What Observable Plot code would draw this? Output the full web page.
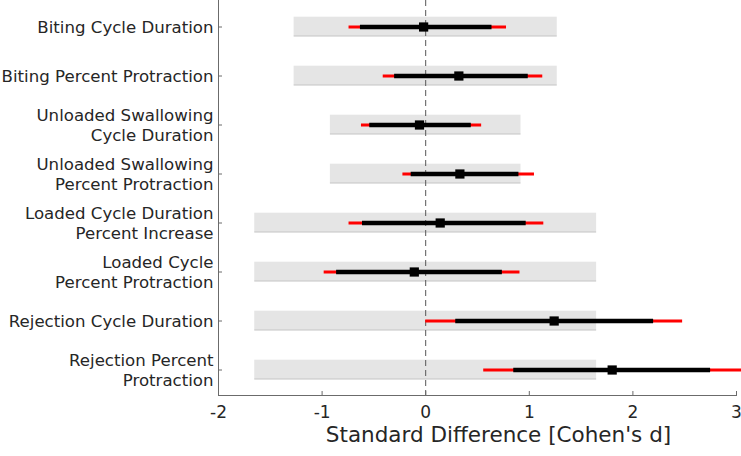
<!DOCTYPE html>
<html>
<head>
<meta charset="utf-8">
<script src="https://cdn.jsdelivr.net/npm/d3@7"></script>
<script src="https://cdn.jsdelivr.net/npm/@observablehq/plot@0.6"></script>
<style>
  html, body { margin: 0; padding: 0; background: #fff; }
  #chart svg { font-family: "DejaVu Sans", Verdana, sans-serif; display: block; }
</style>
</head>
<body>
<div id="chart"></div>
<script>
const categories = [
  "Biting Cycle Duration",
  "Biting Percent Protraction",
  "Unloaded Swallowing\nCycle Duration",
  "Unloaded Swallowing\nPercent Protraction",
  "Loaded Cycle Duration\nPercent Increase",
  "Loaded Cycle\nPercent Protraction",
  "Rejection Cycle Duration",
  "Rejection Percent\nProtraction"
];
const bandHalfWidth = [1.27, 1.27, 0.92, 0.92, 1.65, 1.65, 1.65, 1.65];
const estimate  = [-0.02, 0.32, -0.06, 0.33, 0.14, -0.11, 1.24, 1.80];
const innerLow  = [-0.63, -0.30, -0.54, -0.14, -0.61, -0.86, 0.29, 0.85];
const innerHigh = [0.64, 0.99, 0.44, 0.90, 0.97, 0.74, 2.20, 2.75];
const outerLow  = [-0.74, -0.41, -0.62, -0.22, -0.74, -0.98, 0.00, 0.56];
const outerHigh = [0.78, 1.13, 0.54, 1.05, 1.14, 0.91, 2.48, 3.06];
const xTicks = [-2, -1, 0, 1, 2, 3];
const xLabel = "Standard Difference [Cohen's d]";

const rows = categories.map((c, i) => ({
  cat: c, hw: bandHalfWidth[i], est: estimate[i],
  lo: innerLow[i], hi: innerHigh[i], olo: outerLow[i], ohi: outerHigh[i]
}));

const W = 741, H = 456, mL = 218, mR = 5, mT = 0, mB = 61;
const frameW = W - mL - mR, frameH = H - mT - mB;
const bandStep = frameH / categories.length;
const bandH = 20;
const inset = (bandStep - bandH) / 2;
const textColor = "#262626";
const axisColor = "#6b6b6b";

const chart = Plot.plot({
  width: W, height: H,
  marginLeft: mL, marginRight: mR, marginTop: mT, marginBottom: mB,
  style: { fontFamily: "DejaVu Sans, Verdana, sans-serif", color: textColor, overflow: "visible" },
  x: { domain: [xTicks[0], xTicks[xTicks.length - 1]], axis: null },
  y: { domain: categories, padding: 0, axis: null },
  marks: [
    // grey bands
    Plot.barX(rows, { y: "cat", x1: d => -d.hw, x2: d => d.hw, fill: "#e5e5e5", insetTop: inset, insetBottom: inset }),
    Plot.barX(rows, { y: "cat", x1: d => -d.hw, x2: d => d.hw, fill: "#b4b4b4", insetTop: inset + bandH - 1, insetBottom: inset }),
    // zero line
    Plot.ruleX([0], { stroke: "#555", strokeWidth: 1, strokeDasharray: "6,4" }),
    // intervals
    Plot.ruleY(rows, { y: "cat", x1: "olo", x2: "ohi", stroke: "#ff0000", strokeWidth: 3 }),
    Plot.ruleY(rows, { y: "cat", x1: "lo", x2: "hi", stroke: "#000", strokeWidth: 4.5 }),
    Plot.dot(rows, { y: "cat", x: "est", symbol: "square", r: 5.2, fill: "#000", stroke: "none" }),
    // axes lines
    Plot.frame({ anchor: "left", stroke: axisColor }),
    Plot.frame({ anchor: "bottom", stroke: axisColor }),
    // inward ticks
    Plot.ruleY(categories, { y: d => d, stroke: axisColor, insetRight: frameW - 4 }),
    Plot.ruleX(xTicks, { x: d => d, stroke: axisColor, insetTop: frameH - 4 }),
    // tick labels
    Plot.axisY({ tickSize: 0, tickPadding: 5, fontSize: 16.6, lineHeight: 1.2, fill: textColor, label: null }),
    Plot.axisX({ ticks: xTicks, tickSize: 0, tickPadding: 10, fontSize: 17, fill: textColor, label: null, tickFormat: d => String(d).replace("\u2212", "-") }),
    // x label
    Plot.text([xLabel], { text: d => d, frameAnchor: "bottom", dy: 46, dx: 21, fontSize: 21.5, fill: textColor })
  ]
});
document.getElementById("chart").appendChild(chart);
</script>
</body>
</html>
